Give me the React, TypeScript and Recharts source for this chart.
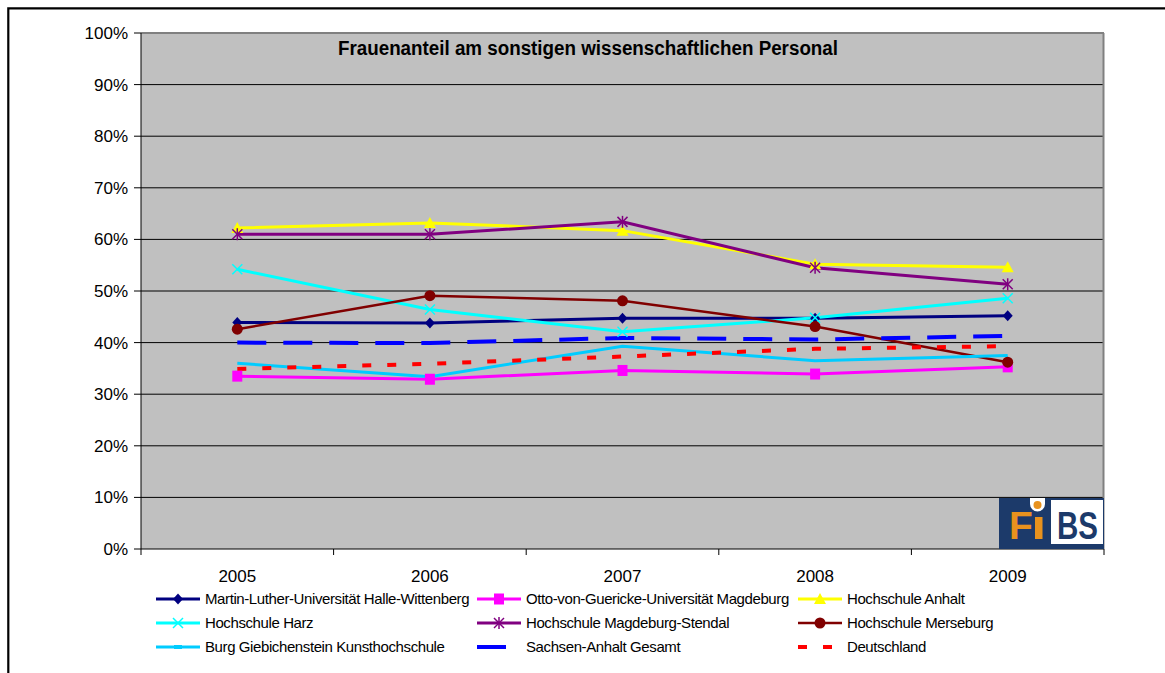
import React from "react";
import {
  LineChart,
  Line,
  XAxis,
  YAxis,
  CartesianGrid,
  ReferenceLine,
} from "recharts";

// Frauenanteil (%) am sonstigen wissenschaftlichen Personal
const years = ["2005", "2006", "2007", "2008", "2009"];
const mluHalle = [43.9, 43.8, 44.7, 44.7, 45.2];
const ovguMagdeburg = [33.5, 32.9, 34.6, 33.9, 35.3];
const hsAnhalt = [62.2, 63.2, 61.7, 55.2, 54.6];
const hsHarz = [54.2, 46.4, 42.1, 44.8, 48.6];
const hsMagdeburgStendal = [61.0, 61.0, 63.4, 54.5, 51.3];
const hsMerseburg = [42.6, 49.1, 48.1, 43.1, 36.2];
const burgGiebichenstein = [36.0, 33.4, 39.3, 36.5, 37.5];
const sachsenAnhalt = [40.0, 39.9, 40.9, 40.6, 41.3];
const deutschland = [34.9, 35.9, 37.3, 38.8, 39.3];
const yTicks = [0, 10, 20, 30, 40, 50, 60, 70, 80, 90, 100];

const W = 1165;
const H = 673;
const PLOT_L = 141;
const PLOT_R = 1104;
const PLOT_T = 33;
const PLOT_B = 549;
const FONT = "'Liberation Sans', Arial, sans-serif";

type Marker = "diamond" | "square" | "triangle" | "x" | "star" | "circle" | "dash" | "none";

const series = [
  { key: "mlu", name: "Martin-Luther-Universität Halle-Wittenberg", values: mluHalle, color: "#000080", width: 3, dash: undefined, marker: "diamond" as Marker },
  { key: "ovgu", name: "Otto-von-Guericke-Universität Magdeburg", values: ovguMagdeburg, color: "#FF00FF", width: 3, dash: undefined, marker: "square" as Marker },
  { key: "anhalt", name: "Hochschule Anhalt", values: hsAnhalt, color: "#FFFF00", width: 3, dash: undefined, marker: "triangle" as Marker },
  { key: "harz", name: "Hochschule Harz", values: hsHarz, color: "#00FFFF", width: 3, dash: undefined, marker: "x" as Marker },
  { key: "mds", name: "Hochschule Magdeburg-Stendal", values: hsMagdeburgStendal, color: "#800080", width: 3, dash: undefined, marker: "star" as Marker },
  { key: "merseburg", name: "Hochschule Merseburg", values: hsMerseburg, color: "#800000", width: 2.5, dash: undefined, marker: "circle" as Marker },
  { key: "burg", name: "Burg Giebichenstein Kunsthochschule", values: burgGiebichenstein, color: "#00CCFF", width: 3, dash: undefined, marker: "dash" as Marker },
  { key: "lsa", name: "Sachsen-Anhalt Gesamt", values: sachsenAnhalt, color: "#0000FF", width: 4, dash: "29 17", marker: "none" as Marker },
  { key: "de", name: "Deutschland", values: deutschland, color: "#FF0000", width: 4, dash: "9 16", marker: "none" as Marker },
];

const rows = years.map((year, i) => {
  const row: Record<string, string | number> = { year };
  series.forEach((s) => {
    row[s.key] = s.values[i];
  });
  return row;
});

function drawMarker(kind: Marker, color: string, cx: number, cy: number) {
  switch (kind) {
    case "diamond":
      return <polygon points={`${cx},${cy - 5.5} ${cx + 5},${cy} ${cx},${cy + 5.5} ${cx - 5},${cy}`} fill={color} />;
    case "square":
      return <rect x={cx - 5} y={cy - 5.5} width={10} height={11} fill={color} />;
    case "triangle":
      return <polygon points={`${cx},${cy - 6} ${cx + 6},${cy + 5} ${cx - 6},${cy + 5}`} fill={color} />;
    case "x":
      return (
        <g stroke={color} strokeWidth={1.5}>
          <line x1={cx - 5} y1={cy - 5} x2={cx + 5} y2={cy + 5} />
          <line x1={cx - 5} y1={cy + 5} x2={cx + 5} y2={cy - 5} />
        </g>
      );
    case "star":
      return (
        <g stroke={color} strokeWidth={1.5}>
          <line x1={cx - 5} y1={cy - 5} x2={cx + 5} y2={cy + 5} />
          <line x1={cx - 5} y1={cy + 5} x2={cx + 5} y2={cy - 5} />
          <line x1={cx} y1={cy - 6} x2={cx} y2={cy + 6} />
        </g>
      );
    case "circle":
      return <circle cx={cx} cy={cy} r={5.5} fill={color} />;
    case "dash":
      return <rect x={cx - 4} y={cy - 2} width={8} height={4} fill={color} />;
    default:
      return null;
  }
}

const YearTick = (props: any) => {
  const { x, payload, index } = props;
  const band = (PLOT_R - PLOT_L) / years.length;
  const left = x - band / 2;
  return (
    <g>
      <line x1={left} y1={PLOT_B} x2={left} y2={PLOT_B + 6} stroke="#000" />
      {index === years.length - 1 && (
        <line x1={x + band / 2} y1={PLOT_B} x2={x + band / 2} y2={PLOT_B + 6} stroke="#000" />
      )}
      <text x={x} y={582} textAnchor="middle" fontSize={17} fontFamily={FONT} fill="#000">
        {payload.value}
      </text>
    </g>
  );
};

const legendCols = [156, 477, 798];
const legendRows = [599, 623, 647];

export default function App() {
  return (
    <div style={{ position: "absolute", left: 0, top: 0, width: W, height: H, background: "#fff", fontFamily: FONT }}>
      <LineChart
        width={W}
        height={H}
        data={rows}
        margin={{ top: PLOT_T, right: W - PLOT_R, bottom: H - PLOT_B - 30, left: 0 }}
      >
        <CartesianGrid horizontal={false} vertical={false} fill="#C0C0C0" fillOpacity={1} />
        <XAxis
          dataKey="year"
          scale="band"
          height={30}
          interval={0}
          tickLine={false}
          axisLine={{ stroke: "#000" }}
          tick={<YearTick />}
        />
        <YAxis
          width={PLOT_L}
          domain={[0, 100]}
          ticks={yTicks}
          interval={0}
          tickSize={7}
          tickMargin={6}
          tickLine={{ stroke: "#000" }}
          axisLine={{ stroke: "#000" }}
          tick={{ fill: "#000", fontSize: 17, fontFamily: FONT }}
          tickFormatter={(v) => `${v}%`}
        />
        {yTicks
          .filter((t) => t > 0 && t < 100)
          .map((t) => (
            <ReferenceLine key={t} y={t} stroke="#000" strokeWidth={1} />
          ))}
        <ReferenceLine y={100} stroke="#808080" strokeWidth={2} />
        {series.map((s) => (
          <Line
            key={s.key}
            dataKey={s.key}
            name={s.name}
            type="linear"
            stroke={s.color}
            strokeWidth={s.width}
            strokeDasharray={s.dash}
            strokeLinecap="butt"
            isAnimationActive={false}
            dot={
              s.marker === "none" || s.marker === "dash"
                ? false
                : (p: any) => <g key={`${s.key}-${p.index}`}>{drawMarker(s.marker, s.color, p.cx, p.cy)}</g>
            }
            activeDot={false}
          />
        ))}
      </LineChart>

      <svg
        width={W}
        height={H}
        style={{ position: "absolute", left: 0, top: 0, pointerEvents: "none" }}
      >
        {/* outer frame */}
        <path d={`M8.3 ${H} V8.3 H${W}`} fill="none" stroke="#000" strokeWidth={2.2} />
        {/* plot border right */}
        <line x1={PLOT_R - 0.5} y1={PLOT_T} x2={PLOT_R - 0.5} y2={PLOT_B} stroke="#808080" strokeWidth={2} />

        <text
          x={588}
          y={55}
          textAnchor="middle"
          fontSize={20}
          fontWeight="bold"
          fontFamily={FONT}
          fill="#000"
          textLength={500}
          lengthAdjust="spacingAndGlyphs"
        >
          Frauenanteil am sonstigen wissenschaftlichen Personal
        </text>

        {/* FiBS logo */}
        <rect x={999} y={498} width={105} height={51} fill="#1C3A6A" />
        <rect x={1051} y={500} width={52} height={44} fill="#fff" />
        <text x={1009} y={539} fontSize={39} fontWeight="bold" fontFamily={FONT} fill="#E8921E">
          F
        </text>
        <rect x={1035} y={517} width={7.5} height={22} fill="#E8921E" />
        <path d="M1030 498 H1045 V504 A7.5 7.5 0 0 1 1030 504 Z" fill="#fff" />
        <circle cx={1037.5} cy={505} r={4} fill="#E8921E" />
        <text
          x={1077.5}
          y={539}
          textAnchor="middle"
          fontSize={39}
          fontWeight="bold"
          fontFamily={FONT}
          fill="#1C3A6A"
          textLength={41}
          lengthAdjust="spacingAndGlyphs"
        >
          BS
        </text>

        {/* legend */}
        {series.map((s, i) => {
          const x0 = legendCols[i % 3];
          const y0 = legendRows[Math.floor(i / 3)];
          return (
            <g key={s.key}>
              <line
                x1={x0}
                y1={y0}
                x2={x0 + 44}
                y2={y0}
                stroke={s.color}
                strokeWidth={s.width}
                strokeDasharray={s.dash}
              />
              {drawMarker(s.marker, s.color, x0 + 22, y0)}
              <text
                x={x0 + 49}
                y={y0 + 5}
                fontSize={15}
                fontFamily={FONT}
                fill="#000"
                letterSpacing={-0.4}
              >
                {s.name}
              </text>
            </g>
          );
        })}
      </svg>
    </div>
  );
}
